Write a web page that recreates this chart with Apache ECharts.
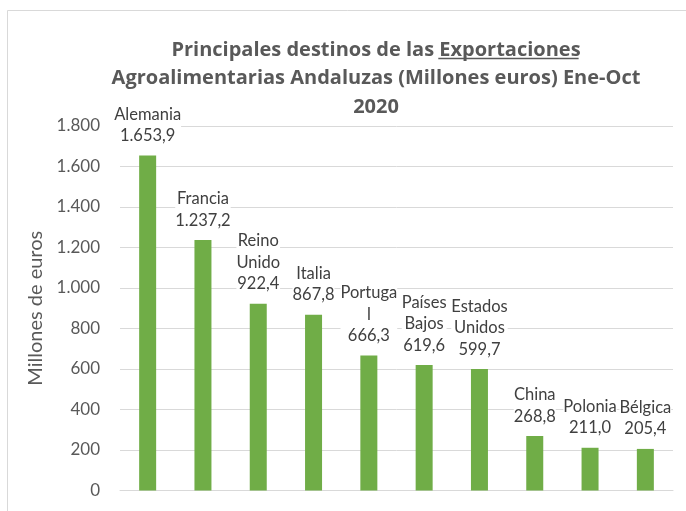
<!DOCTYPE html>
<html>
<head>
<meta charset="utf-8">
<script src="https://cdn.jsdelivr.net/npm/echarts@6/dist/echarts.min.js"></script>
<style>
  html, body { margin: 0; padding: 0; background: #fff; }
  #chart { width: 686px; height: 511px; }
</style>
</head>
<body>
<div id="chart"></div>
<script>
// datos (Millones de euros, Ene-Oct 2020)
var paises = ['Alemania', 'Francia', 'Reino\nUnido', 'Italia', 'Portuga\nl', 'Países\nBajos', 'Estados\nUnidos', 'China', 'Polonia', 'Bélgica'];
var valores = [1653.9, 1237.2, 922.4, 867.8, 666.3, 619.6, 599.7, 268.8, 211.0, 205.4];
var ticksY = [0, 200, 400, 600, 800, 1000, 1200, 1400, 1600, 1800];

var FONT = 'Lato, "Open Sans", sans-serif';
var TFONT = '"Open Sans", Lato, sans-serif';
var titleLine1a = 'Principales destinos de las ';
var titleLine1b = 'Exportaciones';
var titleSize = 20;
var titleCenter = 371;

// numero con formato español: 1.653,9
function fmtEs(v, dec) {
  var s = v.toFixed(dec);
  var parts = s.split('.');
  var ent = parts[0].replace(/\B(?=(\d{3})+(?!\d))/g, '.');
  return parts.length > 1 ? ent + ',' + parts[1] : ent;
}

// medir para subrayar "Exportaciones"
var ctx = document.createElement('canvas').getContext('2d');
ctx.font = 'bold ' + titleSize + 'px ' + TFONT;
var wA = ctx.measureText(titleLine1a).width;
var wB = ctx.measureText(titleLine1b).width;
var x0 = titleCenter - (wA + wB) / 2 + wA;

var chart = echarts.init(document.getElementById('chart'));
chart.setOption({
  animation: false,
  backgroundColor: '#fff',
  title: {
    text: titleLine1a + titleLine1b + '\nAgroalimentarias Andaluzas (Millones euros) Ene-Oct\n2020',
    left: titleCenter,
    top: 31,
    textAlign: 'center',
    textStyle: {
      fontFamily: TFONT,
      fontSize: titleSize,
      fontWeight: 'bold',
      color: '#595959',
      lineHeight: 28.5
    }
  },
  graphic: [
    {
      type: 'rect',
      shape: { x: 7.5, y: 10.5, width: 700, height: 520 },
      style: { fill: null, stroke: '#d9d9d9', lineWidth: 1 },
      silent: true
    },
    {
      type: 'line',
      shape: { x1: x0 + 4, y1: 58.5, x2: x0 + wB + 3, y2: 58.5 },
      style: { stroke: '#595959', lineWidth: 1.5 },
      silent: true
    }
  ],
  grid: {
    left: 120,
    right: 13,
    top: 126,
    bottom: 20.5,
    containLabel: false
  },
  xAxis: {
    type: 'category',
    data: paises,
    axisTick: { show: false },
    axisLabel: { show: false },
    axisLine: { lineStyle: { color: '#d9d9d9', width: 1 } }
  },
  yAxis: {
    type: 'value',
    min: ticksY[0],
    max: ticksY[ticksY.length - 1],
    interval: 200,
    name: 'Millones de euros',
    nameLocation: 'middle',
    nameGap: 73,
    nameTextStyle: { fontFamily: FONT, fontSize: 20, color: '#595959' },
    axisLine: { show: false },
    axisTick: { show: false },
    axisLabel: {
      fontFamily: FONT,
      fontSize: 17,
      color: '#595959',
      margin: 20,
      formatter: function (v) { return fmtEs(v, 0); }
    },
    splitLine: { lineStyle: { color: '#d9d9d9', width: 1 } }
  },
  series: [
    {
      type: 'bar',
      data: valores,
      barWidth: 17,
      itemStyle: { color: '#70ad47' },
      label: {
        show: true,
        position: 'top',
        distance: 9,
        fontFamily: FONT,
        fontSize: 16.5,
        lineHeight: 21.5,
        color: '#404040',
        backgroundColor: '#fff',
        formatter: function (p) { return p.name + '\n' + fmtEs(p.value, 1); }
      }
    }
  ]
});
</script>
</body>
</html>
